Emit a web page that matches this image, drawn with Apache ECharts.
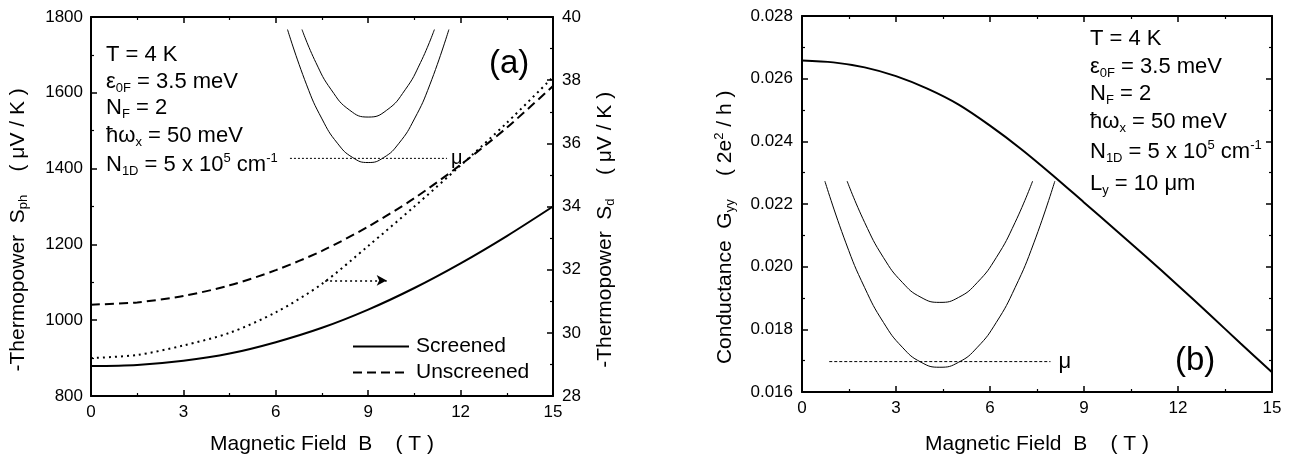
<!DOCTYPE html>
<html><head><meta charset="utf-8">
<script src="https://cdn.jsdelivr.net/npm/echarts@6/dist/echarts.min.js"></script>
<style>html,body{margin:0;padding:0;background:#fff}#c{width:1293px;height:461px}</style>
</head><body><div id="c"></div>
<script>
// ---------- Panel (a) data ----------
const fieldB = [0, 1.5, 3, 4.5, 6, 7.5, 9, 10.5, 12, 13.5, 15];
const screenedSph = [879, 882, 893, 912, 942, 980, 1028, 1085, 1150, 1222, 1300];
const unscreenedSph = [1041, 1047, 1064, 1092, 1132, 1183, 1247, 1322, 1410, 1508, 1618];
const diffusionSd = [29.2, 29.3, 29.6, 30.0, 30.65, 31.55, 32.75, 34.0, 35.3, 36.65, 38.1];
const arrowB = [7.6, 9.6];
const arrowSd = 31.66;
// inset (a): subband sketch, read in left-axis units
const insetA_outerB = [6.38, 7.0, 7.5, 8.0, 8.5, 9.0, 9.5, 10.0, 10.5, 11.0, 11.62];
const insetA_outerV = [1767, 1621, 1531, 1467, 1429, 1416, 1429, 1467, 1531, 1621, 1767];
const insetA_innerB = [6.85, 7.3, 7.8, 8.4, 9.0, 9.6, 10.2, 10.7, 11.15];
const insetA_innerV = [1767, 1680, 1608, 1554, 1536, 1554, 1608, 1680, 1767];
const insetA_muB = [6.46, 11.56];
const insetA_muV = 1427;

// ---------- Panel (b) data ----------
const fieldB2 = [0, 1, 2, 3, 4, 5, 6, 7, 8, 9, 10, 11, 12, 13, 14, 15];
const conductanceGyy = [0.02658, 0.02652, 0.02636, 0.02608, 0.02568, 0.02517, 0.02450, 0.02375, 0.02292, 0.02205, 0.02118, 0.02030, 0.01940, 0.01848, 0.01755, 0.01663];
const insetB_outerB = [0.73, 1.4, 2.0, 2.6, 3.2, 3.8, 4.4, 5.0, 5.6, 6.2, 6.8, 7.4, 8.07];
const insetB_outerV = [0.02273, 0.02076, 0.01933, 0.01822, 0.01743, 0.01695, 0.01679, 0.01695, 0.01743, 0.01822, 0.01933, 0.02076, 0.02273];
const insetB_innerB = [1.44, 2.0, 2.6, 3.2, 3.8, 4.4, 5.0, 5.6, 6.2, 6.8, 7.36];
const insetB_innerV = [0.02273, 0.02141, 0.02029, 0.01950, 0.01902, 0.01886, 0.01902, 0.01950, 0.02029, 0.02141, 0.02273];
const insetB_muB = [0.87, 7.93];
const insetB_muV = 0.01697;

// ---------- tick labels ----------
const xTicks = [0, 3, 6, 9, 12, 15];
const sphTicks = [800, 1000, 1200, 1400, 1600, 1800];
const sdTicks = [28, 30, 32, 34, 36, 38, 40];
const gTicks = [0.016, 0.018, 0.020, 0.022, 0.024, 0.026, 0.028];

// ---------- build ----------
const FONT = '"Liberation Sans", Arial, Helvetica, sans-serif';
const BLACK = '#000';
const pair = (xs, ys) => xs.map((x, i) => [x, Array.isArray(ys) ? ys[i] : ys]);
const rng = t => ({min: t[0], max: t[t.length - 1], interval: t[1] - t[0]});

const subRich = {
  sub: {fontSize: 13, lineHeight: 4, verticalAlign: 'bottom', fontFamily: FONT, color: BLACK},
  sup: {fontSize: 13, lineHeight: 4, verticalAlign: 'top', fontFamily: FONT, color: BLACK}
};
const nameStyle = {fontSize: 21, fontFamily: FONT, color: BLACK, lineHeight: 24, rich: subRich};
const labelStyle = (extra) => Object.assign({show: true, fontSize: 17, fontFamily: FONT, color: BLACK, margin: 8,
  formatter: v => String(v)}, extra || {});

function axisBase(ticks, opts) {
  return Object.assign({
    type: 'value', ...rng(ticks),
    axisLine: {show: true, onZero: false, lineStyle: {color: BLACK, width: 2}},
    axisTick: {show: true, inside: true, length: 6, lineStyle: {color: BLACK, width: 1.5}},
    minorTick: {show: true, splitNumber: 2, length: 3, lineStyle: {color: BLACK, width: 1.2}},
    splitLine: {show: false},
    axisLabel: labelStyle(),
    nameTextStyle: nameStyle
  }, opts);
}

// trailing spaces shift the rotated titles slightly downward, as in the original
const xName = 'Magnetic Field  B    ( T )';
const yNameA = '-Thermopower  S{sub|ph}    ( μV / K )        ';
const yNameA2 = '-Thermopower  S{sub|d}    ( μV / K )        ';
const yNameB = 'Conductance  G{sub|yy}    ( 2e{sup|2} / h )        ';
const xAxis = [
  axisBase(xTicks, {gridIndex: 0, position: 'bottom', name: xName, nameLocation: 'middle', nameGap: 36}),
  axisBase(xTicks, {gridIndex: 0, position: 'top', axisLabel: {show: false}}),
  axisBase(xTicks, {gridIndex: 1, position: 'bottom', name: xName, nameLocation: 'middle', nameGap: 40}),
  axisBase(xTicks, {gridIndex: 1, position: 'top', axisLabel: {show: false}})
];
const yAxis = [
  axisBase(sphTicks, {gridIndex: 0, position: 'left', name: yNameA,
    nameLocation: 'middle', nameGap: 61, nameRotate: 90}),
  axisBase(sdTicks, {gridIndex: 0, position: 'right', name: yNameA2,
    nameLocation: 'middle', nameGap: 40, nameRotate: 90, axisLabel: labelStyle({margin: 9})}),
  axisBase(gTicks, {gridIndex: 1, position: 'left', name: yNameB,
    nameLocation: 'middle', nameGap: 65, nameRotate: 90,
    axisLabel: labelStyle({margin: 9, formatter: v => v.toFixed(3)})}),
  axisBase(gTicks, {gridIndex: 1, position: 'right', axisLabel: {show: false}})
];

const thin = (type) => ({color: BLACK, width: 1, type: type || 'solid'});
const series = [
  {name: 'Screened', type: 'line', xAxisIndex: 0, yAxisIndex: 0, data: pair(fieldB, screenedSph),
   smooth: 0.3, symbol: 'none', showSymbol: false, lineStyle: {color: BLACK, width: 2}, itemStyle: {color: BLACK}},
  {name: 'Unscreened', type: 'line', xAxisIndex: 0, yAxisIndex: 0, data: pair(fieldB, unscreenedSph),
   smooth: 0.3, symbol: 'none', showSymbol: false, lineStyle: {color: BLACK, width: 2, type: [9, 5]}, itemStyle: {color: BLACK}},
  {name: 'Sd', type: 'line', xAxisIndex: 0, yAxisIndex: 1, data: pair(fieldB, diffusionSd),
   smooth: 0.3, symbol: 'none', lineStyle: {color: BLACK, width: 2, type: [2, 4]},
   markLine: {silent: true, symbol: ['none', 'arrow'], symbolSize: [8, 10], label: {show: false},
     lineStyle: {color: BLACK, width: 1.5, type: [2, 3]},
     data: [[{coord: [arrowB[0], arrowSd]}, {coord: [arrowB[1], arrowSd]}]]}},
  {name: 'insetAOuter', type: 'line', xAxisIndex: 0, yAxisIndex: 0, data: pair(insetA_outerB, insetA_outerV),
   smooth: true, symbol: 'none', lineStyle: thin()},
  {name: 'insetAInner', type: 'line', xAxisIndex: 0, yAxisIndex: 0, data: pair(insetA_innerB, insetA_innerV),
   smooth: true, symbol: 'none', lineStyle: thin()},
  {name: 'insetAMu', type: 'line', xAxisIndex: 0, yAxisIndex: 0, data: pair(insetA_muB, insetA_muV),
   symbol: 'none', lineStyle: thin([2, 2]),
   endLabel: {show: true, formatter: 'μ', fontSize: 20, fontFamily: FONT, color: BLACK, distance: 4}},
  {name: 'Gyy', type: 'line', xAxisIndex: 2, yAxisIndex: 2, data: pair(fieldB2, conductanceGyy),
   smooth: 0.3, symbol: 'none', lineStyle: {color: BLACK, width: 2}},
  {name: 'insetBOuter', type: 'line', xAxisIndex: 2, yAxisIndex: 2, data: pair(insetB_outerB, insetB_outerV),
   smooth: true, symbol: 'none', lineStyle: thin()},
  {name: 'insetBInner', type: 'line', xAxisIndex: 2, yAxisIndex: 2, data: pair(insetB_innerB, insetB_innerV),
   smooth: true, symbol: 'none', lineStyle: thin()},
  {name: 'insetBMu', type: 'line', xAxisIndex: 2, yAxisIndex: 2, data: pair(insetB_muB, insetB_muV),
   symbol: 'none', lineStyle: thin([3, 2]),
   endLabel: {show: true, formatter: 'μ', fontSize: 22, fontFamily: FONT, color: BLACK, distance: 8}}
];

const annRich = {
  sub: {fontSize: 13, lineHeight: 2, verticalAlign: 'bottom', fontFamily: FONT, fill: BLACK, color: BLACK},
  sup: {fontSize: 13, lineHeight: 4, verticalAlign: 'top', fontFamily: FONT, fill: BLACK, color: BLACK}
};
function ann(x, y, text, size) {
  return {type: 'text', x: x, y: y, silent: true,
    style: {text: text, fontSize: size || 22, fontFamily: FONT, fill: BLACK, lineHeight: 26,
      align: 'left', verticalAlign: 'middle', textAlign: 'left', textVerticalAlign: 'middle', rich: annRich}};
}
const linesA = ['T = 4 K', 'ε{sub|0F} = 3.5 meV', 'N{sub|F} = 2', 'ħω{sub|x} = 50 meV', 'N{sub|1D} = 5 x 10{sup|5} cm{sup|-1}'];
const posA = [55, 82, 108, 136, 165];
const linesB = ['T = 4 K', 'ε{sub|0F} = 3.5 meV', 'N{sub|F} = 2', 'ħω{sub|x} = 50 meV', 'N{sub|1D} = 5 x 10{sup|5} cm{sup|-1}', 'L{sub|y} = 10 μm'];
const posB = [39, 67, 94, 122, 152, 184];
const graphic = [];
linesA.forEach((t, i) => graphic.push(ann(106, posA[i], t)));
linesB.forEach((t, i) => graphic.push(ann(1090, posB[i], t)));
graphic.push(ann(489, 64, '(a)', 33));
graphic.push(ann(1175, 361, '(b)', 33));

const chart = echarts.init(document.getElementById('c'));
chart.setOption({
  animation: false,
  backgroundColor: '#fff',
  grid: [
    {left: 91, top: 17, width: 462, height: 383},
    {left: 802, top: 16, width: 470, height: 380}
  ],
  legend: {data: ['Screened', 'Unscreened'], orient: 'vertical', left: 347, top: 331,
    itemWidth: 56, itemHeight: 12, itemGap: 5, selectedMode: false,
    itemStyle: {opacity: 0},
    textStyle: {fontSize: 21, fontFamily: FONT, color: BLACK, padding: [0, 0, 0, 2]}},
  xAxis: xAxis,
  yAxis: yAxis,
  series: series,
  graphic: graphic
});
</script></body></html>
